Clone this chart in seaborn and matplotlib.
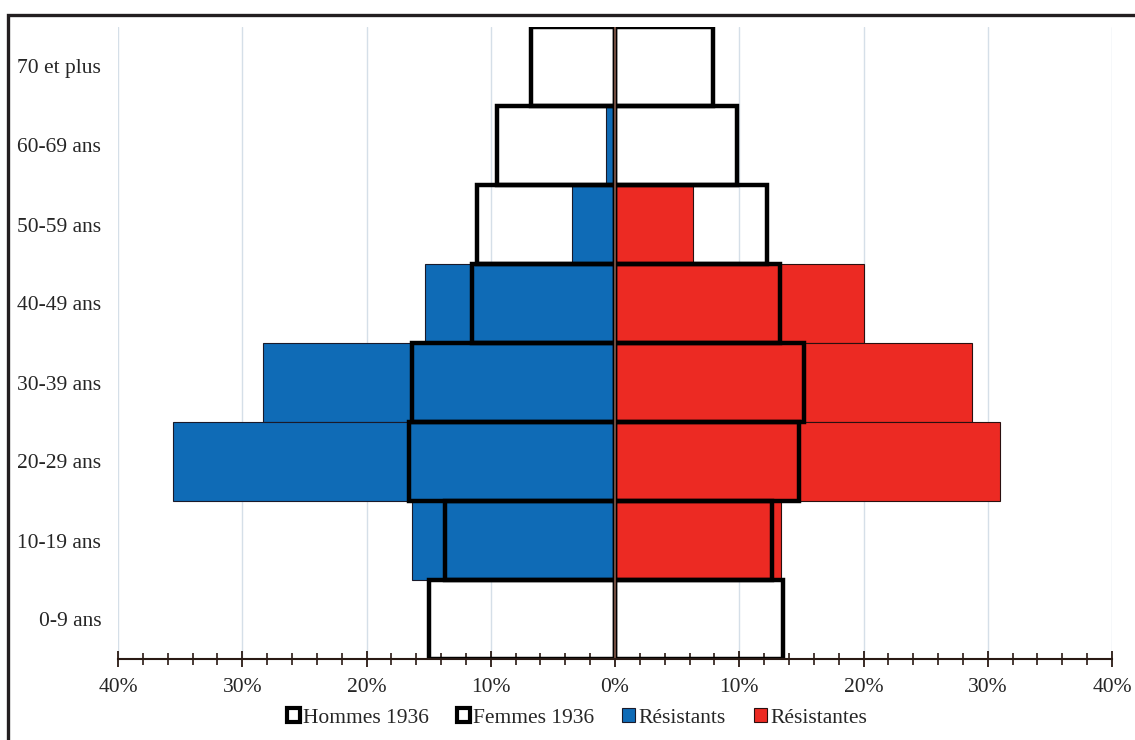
import numpy as np
import pandas as pd
import seaborn as sns
from matplotlib import pyplot as plt
from matplotlib.patches import Patch, Rectangle
from matplotlib.ticker import FuncFormatter, MultipleLocator

# age groups, top to bottom
ages = ['70 et plus', '60-69 ans', '50-59 ans', '40-49 ans',
        '30-39 ans', '20-29 ans', '10-19 ans', '0-9 ans']

# shares in %
hommes_1936 = [6.8, 9.5, 11.1, 11.5, 16.3, 16.6, 13.7, 15.0]
femmes_1936 = [7.9, 9.8, 12.2, 13.3, 15.2, 14.8, 12.6, 13.5]
resistants = [0.0, 0.7, 3.5, 15.3, 28.3, 35.6, 16.3, 0.0]
resistantes = [0.0, 0.0, 6.3, 20.0, 28.7, 31.0, 13.4, 0.0]

blue = '#0f6bb6'
red = '#ec2a23'

sns.set_style('white')
plt.rcParams['font.family'] = ['Liberation Serif', 'DejaVu Serif']

df = pd.DataFrame({
    'age': ages,
    'hommes': -np.array(hommes_1936),
    'femmes': np.array(femmes_1936),
    'resistants': -np.array(resistants),
    'resistantes': np.array(resistantes),
})

fig = plt.figure(figsize=(11.35, 7.4), dpi=100)
ax = fig.add_axes([118 / 1135, 1 - 659 / 740, (1112 - 118) / 1135, (659 - 27) / 740])

# grid first
for v in range(-40, 41, 10):
    ax.axvline(v, color='#d5dfe8', lw=1, zorder=0)

bar_kw = dict(y='age', order=ages, orient='h', width=1, saturation=1,
              errorbar=None, ax=ax)
sns.barplot(data=df, x='resistants', color=blue, edgecolor='#1a1a2a',
            linewidth=0.8, zorder=2, **bar_kw)
sns.barplot(data=df, x='resistantes', color=red, edgecolor='#2a1010',
            linewidth=0.8, zorder=2, **bar_kw)
sns.barplot(data=df, x='hommes', color='black', fill=False,
            linewidth=3.2, zorder=3, **bar_kw)
sns.barplot(data=df, x='femmes', color='black', fill=False,
            linewidth=3.2, zorder=3, **bar_kw)

ax.axvline(0, color='#7a5446', lw=1.3, zorder=4)

ax.set_xlim(-40, 40)
ax.set_ylim(len(ages) - 0.5, -0.5)
ax.set_xlabel('')
ax.set_ylabel('')

ax.xaxis.set_major_locator(MultipleLocator(10))
ax.xaxis.set_minor_locator(MultipleLocator(2))
ax.xaxis.set_major_formatter(FuncFormatter(lambda v, p: f'{abs(v):.0f}%'))
ax.tick_params(axis='x', which='major', direction='inout', length=11, width=1.3,
               color='#2a1a14', labelsize=15.5, pad=8, bottom=True)
ax.tick_params(axis='x', which='minor', direction='inout', length=8, width=1.2,
               color='#2a1a14', bottom=True)
ax.tick_params(axis='y', length=0, labelsize=15.5, pad=12)

for side in ['top', 'right', 'left']:
    ax.spines[side].set_visible(False)
ax.spines['bottom'].set_color('#2a1a14')
ax.spines['bottom'].set_linewidth(1.5)
ax.spines['bottom'].set_zorder(5)

handles = [
    Patch(facecolor='white', edgecolor='black', linewidth=3, label='Hommes 1936'),
    Patch(facecolor='white', edgecolor='black', linewidth=3, label='Femmes 1936'),
    Patch(facecolor=blue, edgecolor='#1a1a2a', linewidth=0.8, label='Résistants'),
    Patch(facecolor=red, edgecolor='#2a1010', linewidth=0.8, label='Résistantes'),
]
fig.legend(handles=handles, loc='center', bbox_to_anchor=(577 / 1135, 1 - 718 / 740),
           ncol=4, frameon=False, fontsize=15.5, handlelength=0.6, handleheight=0.6,
           handletextpad=0.15, columnspacing=1.3)

# outer frame, cut off on the right and bottom
fig.patches.append(Rectangle((8 / 1135, -0.05), 1.2, 1 - 15 / 740 + 0.05,
                             transform=fig.transFigure, fill=False,
                             edgecolor='#231f20', linewidth=2.4))

fig.savefig('out.png', dpi=100)
